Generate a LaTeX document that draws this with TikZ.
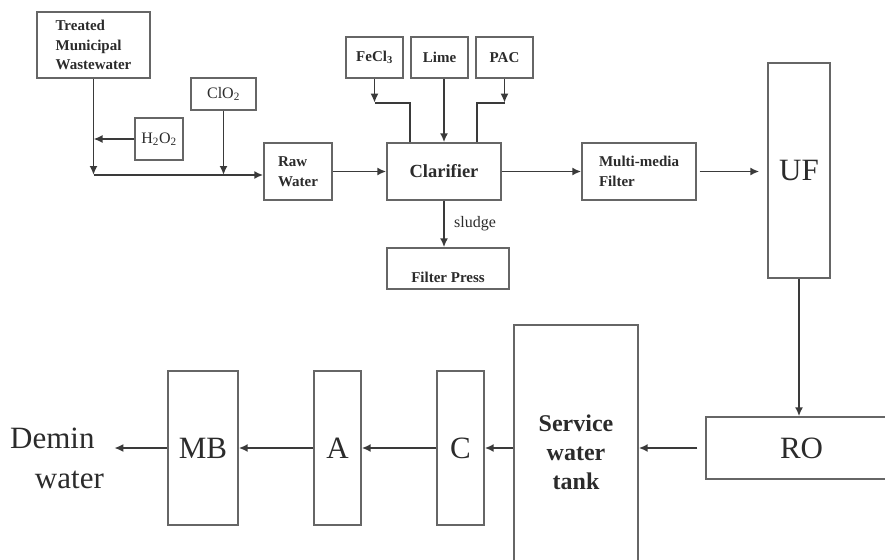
\documentclass[tikz,border=0pt]{standalone}
\usepackage{fontspec}
\setmainfont{Liberation Serif}
\usetikzlibrary{arrows.meta,calc}
\definecolor{linegray}{HTML}{666666}
\definecolor{inkgray}{HTML}{2B2B2B}
\definecolor{wiregray}{HTML}{3A3A3A}

\begin{document}
\begin{tikzpicture}[
    x=1pt, y=-1pt,
    box/.style={rectangle, draw=linegray, line width=1.4pt, text=inkgray, align=left, inner sep=0pt, font=\fontsize{15}{19.5}\selectfont\bfseries},
    chem/.style={box, font=\fontsize{16}{19}\selectfont},
    unit/.style={rectangle, draw=linegray, line width=1.4pt, text=inkgray, align=center, inner sep=0pt, font=\fontsize{31}{38}\selectfont},
    wire/.style={draw=wiregray, line width=1.8pt},
    arrow/.style={wire, -{Latex[length=9pt,width=8pt]}}
]
\useasboundingbox (0,0) rectangle (885,559);
\clip (0,0) rectangle (885,559);

% pretreatment
\node [box, minimum width=113pt, minimum height=66pt] (treated) at (93.5,45) {Treated\\Municipal\\Wastewater};
\node [chem, minimum width=48pt, minimum height=42pt] (h2o2) at (159,139) {H\textsubscript{2}O\textsubscript{2}};
\node [chem, minimum width=65pt, minimum height=32pt] (clo2) at (223.5,94) {ClO\textsubscript{2}};
\node [box, minimum width=68pt, minimum height=57pt] (raw) at (298,171.5) {Raw\\Water};
\node [box, minimum width=114pt, minimum height=57pt, font=\fontsize{18.5}{22}\selectfont\bfseries] (clar) at (444,171.5) {Clarifier};
\node [box, minimum width=57pt, minimum height=41pt] (fecl) at (374.5,57.5) {FeCl\textsubscript{3}};
\node [box, minimum width=57pt, minimum height=41pt] (lime) at (439.5,57.5) {Lime};
\node [box, minimum width=57pt, minimum height=41pt] (pac) at (504.5,57.5) {PAC};
\node [box, minimum width=122pt, minimum height=41pt, text height=27pt, text depth=0pt] (fpress) at (448,268.5) {Filter Press};
\node [box, minimum width=114pt, minimum height=57pt] (mmf) at (639,171.5) {Multi-media\\Filter};

% membranes and demineralisation
\node [unit, minimum width=62pt, minimum height=215pt] (uf) at (799,170.5) {UF};
\node [unit, minimum width=194pt, minimum height=62pt, text width=188pt, align=left] (ro) at (803,448) {\hspace*{71pt}RO};
\node [unit, minimum width=124pt, minimum height=255pt, font=\fontsize{24}{29}\selectfont\bfseries] (tank) at (576,452.5) {Service\\water\\tank};
\node [unit, minimum width=47pt, minimum height=154pt] (c) at (460.5,448) {C};
\node [unit, minimum width=47pt, minimum height=154pt] (a) at (337.5,448) {A};
\node [unit, minimum width=70pt, minimum height=154pt] (mb) at (203,448) {MB};
\node [text=inkgray, align=left, inner sep=0pt, anchor=west, font=\fontsize{31}{40}\selectfont] (demin) at (10,458) {Demin\\\hspace*{0.8em}water};

\coordinate (jn) at (93.5,175);
\path (fecl.south) ++(0,24) coordinate (fj);
\path (pac.south) ++(0,24) coordinate (pj);

\draw [arrow] (treated) -- (jn);
\draw [arrow] (h2o2) -- (h2o2 -| jn);
\draw [arrow] (clo2) -- (clo2 |- jn);
\draw [arrow] (jn) -- (jn -| raw.west);
\draw [arrow] (raw) -- (clar);
\draw [arrow] (fecl) -- (fj);
\draw [arrow] (pac) -- (pj);
\draw [wire] ($(clar.north west)+(24,0)$) |- (fj);
\draw [wire] ($(clar.north east)+(-25,0)$) |- (pj);
\draw [arrow] (clar.north |- lime.south) -- (clar.north);
\draw [arrow] (clar) -- (clar.south |- fpress.north) node [midway, right=6pt, text=inkgray, font=\fontsize{16}{19}\selectfont] {sludge};
\draw [arrow] (clar) -- (mmf);
\draw [arrow, shorten <=3pt, shorten >=8pt] (mmf) -- (mmf -| uf.west);
\draw [arrow] (uf) -- (uf |- ro.north);
\draw [arrow, shorten <=8pt] (ro.west) -- (ro.west -| tank.east);
\draw [arrow] (c.east -| tank.west) -- (c.east);
\draw [arrow] (c) -- (a);
\draw [arrow] (a) -- (mb);
\draw [arrow] (mb.west) -- ++(-53,0);

\end{tikzpicture}
\end{document}
